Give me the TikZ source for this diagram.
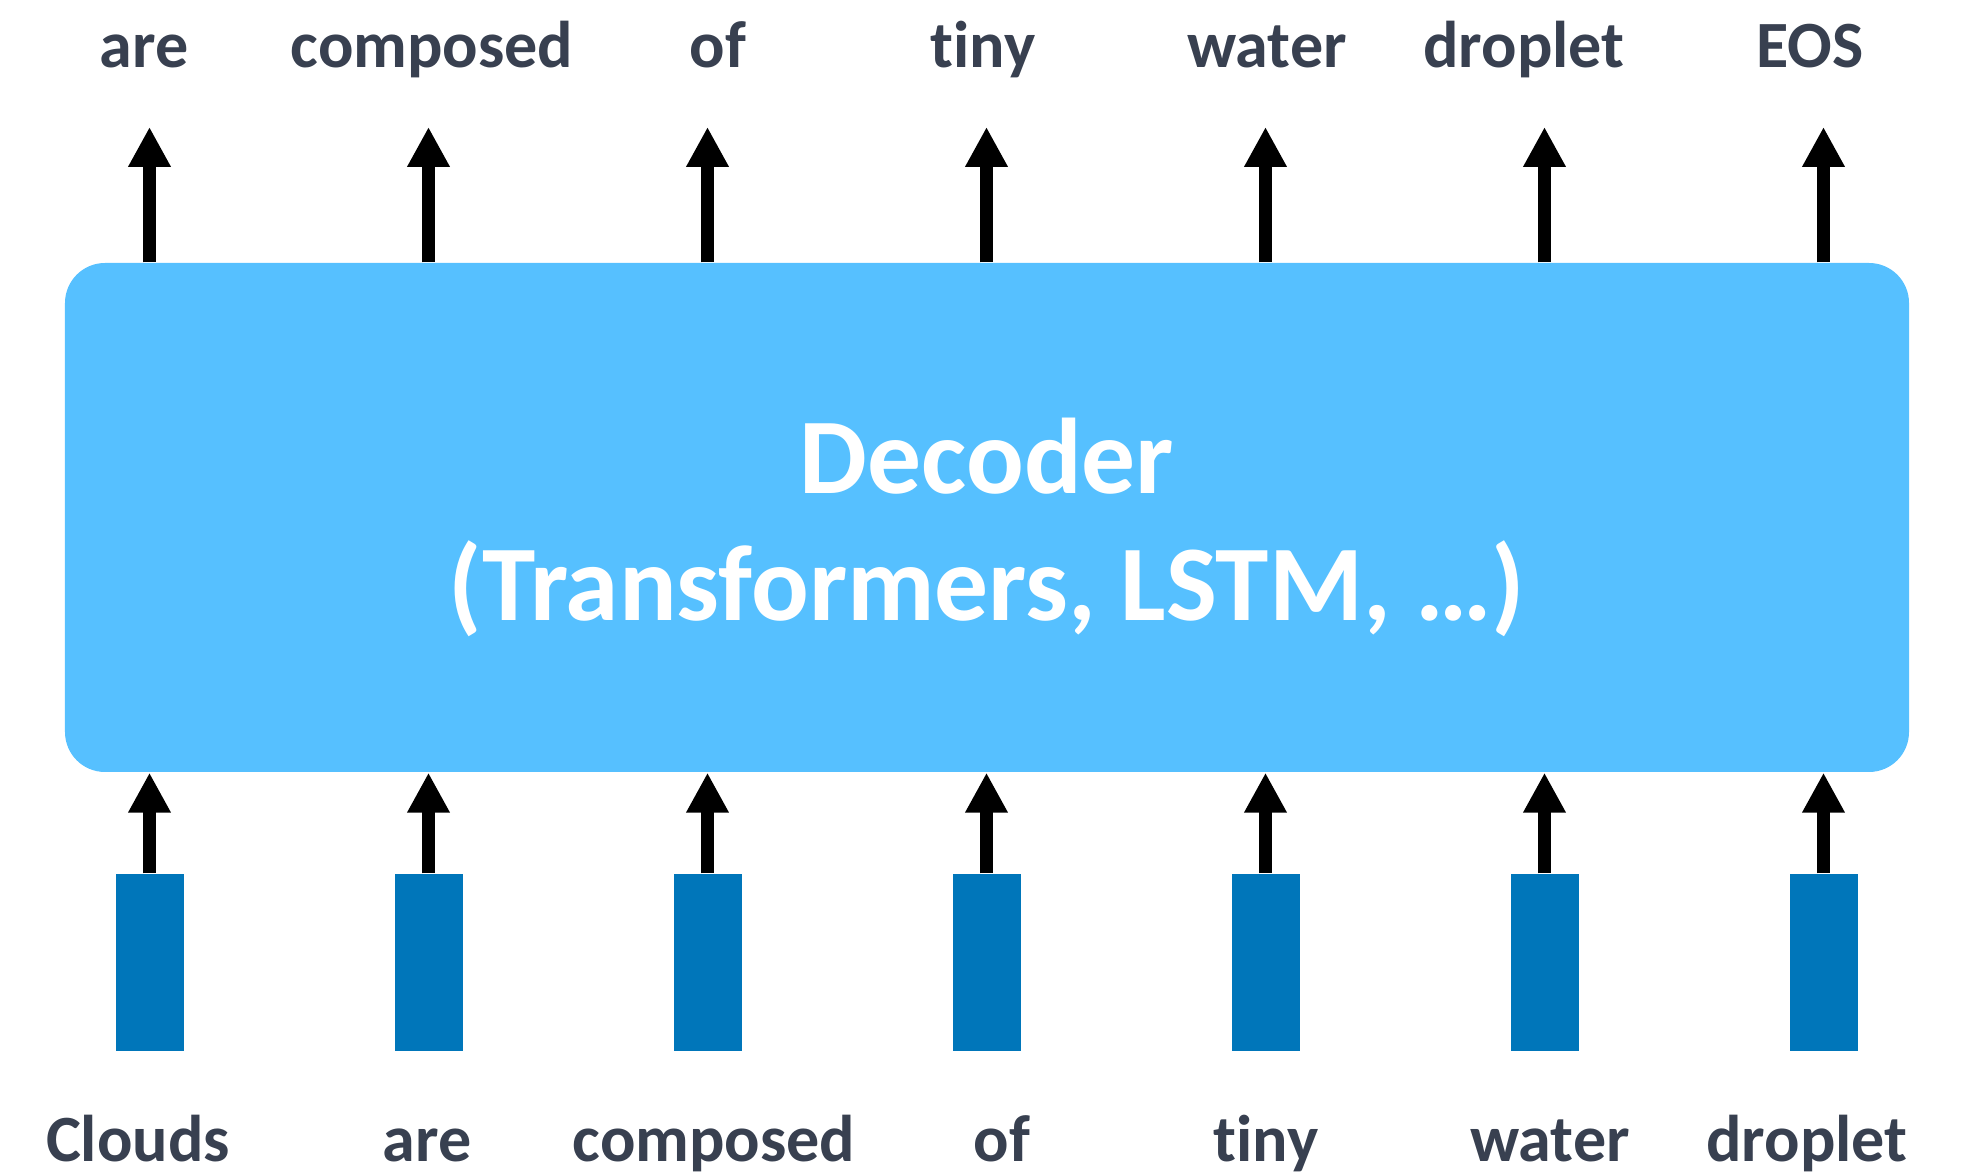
\documentclass[tikz,border=0pt]{standalone}
\usepackage{fontspec}
\setmainfont{Carlito}[Ligatures=NoCommon]
\usetikzlibrary{arrows.meta, positioning}
\definecolor{decblue}{RGB}{86,192,255}
\definecolor{embblue}{RGB}{0,118,186}
\definecolor{wordgray}{RGB}{56,64,80}

\begin{document}
\begin{tikzpicture}[
    word/.style={anchor=base,inner sep=0pt,text=wordgray,
                 font=\fontsize{18.8}{22}\selectfont\bfseries},
    emb/.style={fill=embblue,minimum width=0.68cm,minimum height=1.77cm,inner sep=0pt},
    up/.style={-{Triangle[length=0.4cm,width=0.4cm]},line width=0.13cm}]
  \useasboundingbox (0,0) rectangle (19.68,-11.76);
  \node[fill=decblue,rounded corners=0.4cm,minimum width=18.44cm,
        minimum height=5.09cm] (dec) at (9.87,-5.175) {};
  \node[align=center,text=white,inner sep=0pt,
        font=\fontsize{30.6}{35.9}\selectfont\bfseries] (declabel)
        at ([yshift=-0.1cm]dec.center) {Decoder\\(Transformers, LSTM, …)};
  \foreach \i/\wi/\xi/\wo/\xo in {0/Clouds/1.38/are/1.44, 1/are/4.27/composed/4.32,
      2/composed/7.14/of/7.18, 3/of/10.02/tiny/9.83, 4/tiny/12.66/water/12.67,
      5/water/15.50/droplet/15.24, 6/droplet/18.07/EOS/18.10}{
    \node[emb] (emb\i) at (1.495+2.79*\i,-9.625) {};
    \coordinate (tip\i) at (1.495+2.79*\i,-1.27);
    \draw[up] (emb\i.north) -- (emb\i.north |- dec.south);
    \draw[up] (tip\i |- dec.north) -- (tip\i);
    \node[word] (in\i) at (\xi,-11.62) {\wi};
    \node[word] (out\i) at (\xo,-0.68) {\wo};
  }
\end{tikzpicture}
\end{document}
